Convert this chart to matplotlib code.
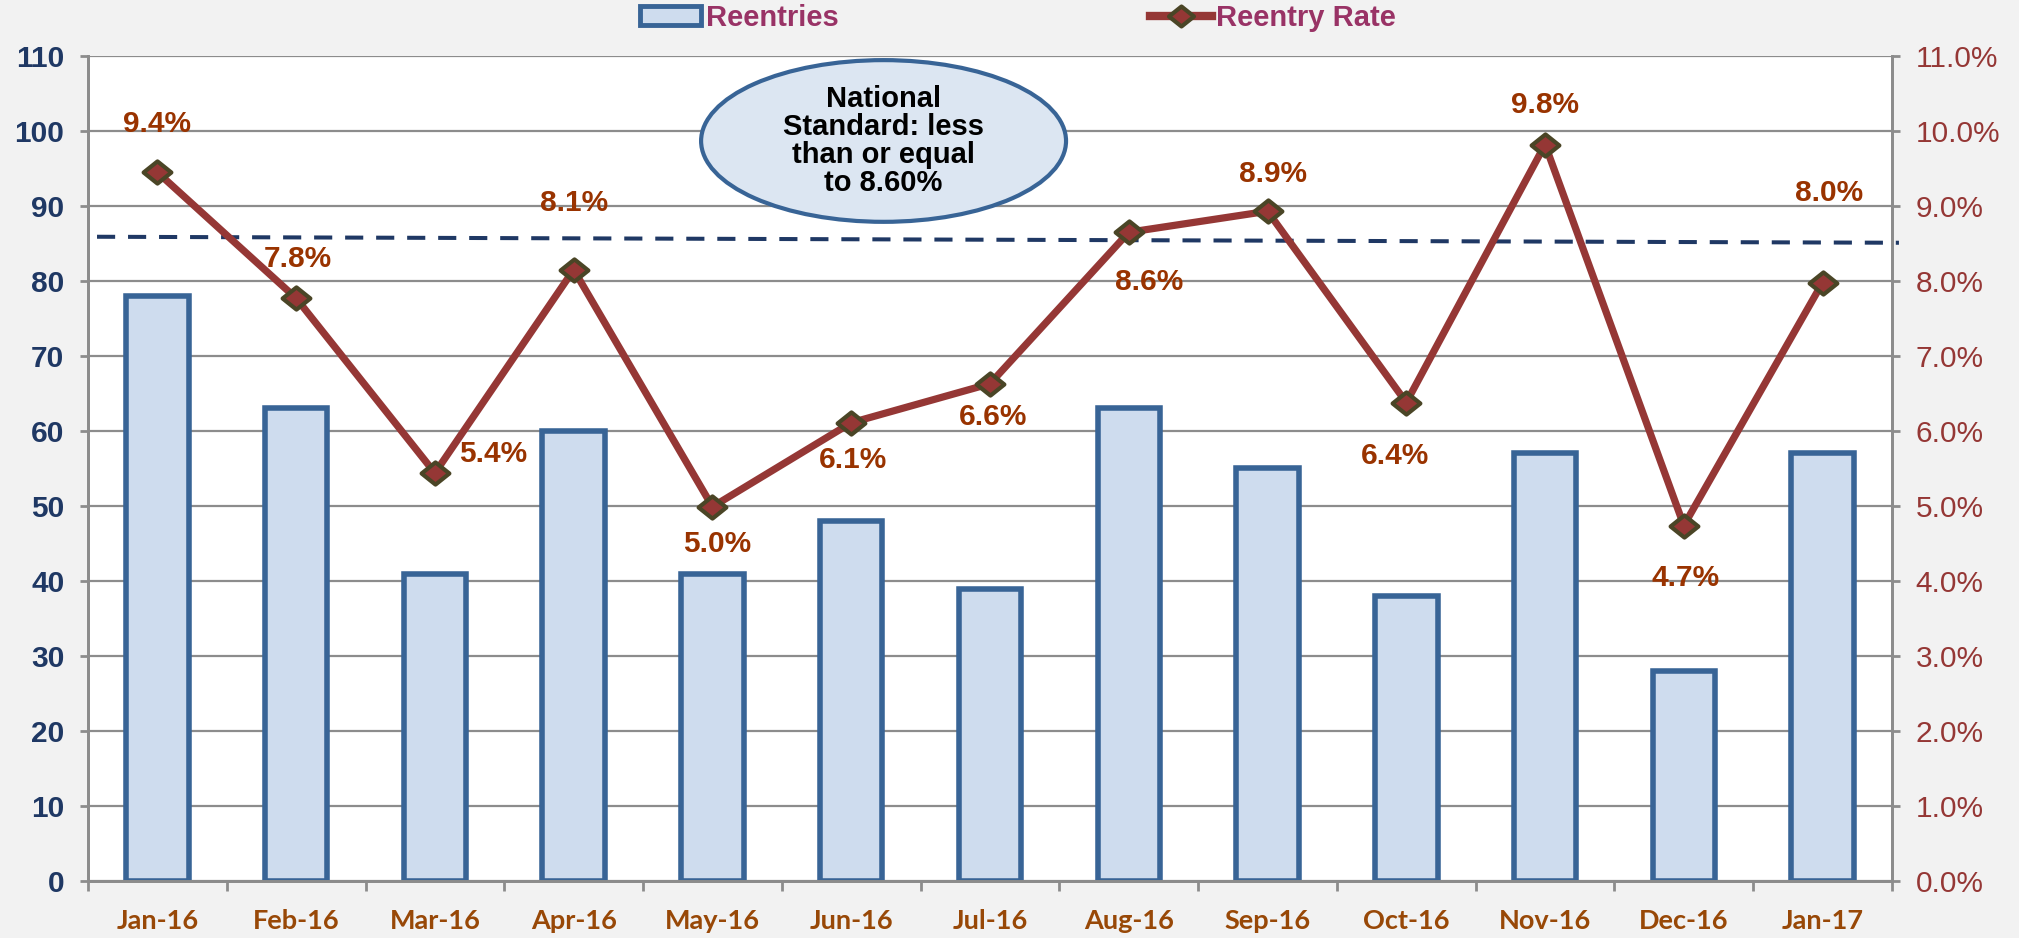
import numpy as np
import matplotlib
matplotlib.use('Agg')
import matplotlib.pyplot as plt
from matplotlib.patches import Ellipse, Patch
from matplotlib.lines import Line2D
from matplotlib.path import Path

months = ['Jan-16', 'Feb-16', 'Mar-16', 'Apr-16', 'May-16', 'Jun-16', 'Jul-16',
          'Aug-16', 'Sep-16', 'Oct-16', 'Nov-16', 'Dec-16', 'Jan-17']
reentries = [78, 63, 41, 60, 41, 48, 39, 63, 55, 38, 57, 28, 57]
rate = [9.45, 7.77, 5.44, 8.15, 4.99, 6.11, 6.63, 8.65, 8.93, 6.38, 9.82, 4.74, 7.98]
rate_labels = ['9.4%', '7.8%', '5.4%', '8.1%', '5.0%', '6.1%', '6.6%',
               '8.6%', '8.9%', '6.4%', '9.8%', '4.7%', '8.0%']
standard_line = [8.59, 8.51]   # drawn standard line, left and right ends
standard_text = 'National\nStandard: less\nthan or equal\nto 8.60%'

# label offsets (pixels) from each rate marker
label_off = [(0, 48), (2, 39), (58, 19), (0, 67), (5, -37), (2, -37), (3, -33),
             (20, -50), (5, 37), (-11, -53), (0, 40), (2, -52), (6, 90)]

BG = '#F2F2F2'
GRID = '#8C8C8C'
BAR_FACE = '#CEDCEE'
BAR_EDGE = '#386496'
LINE_RED = '#953735'
MARK_EDGE = '#4A4526'
LABEL_BROWN = '#993300'
NAVY = '#1F3864'
XLAB = '#984807'
LEG_TXT = '#993366'

# Excel-style diamond, a bit wider than tall
DIAMOND = Path([(-1, 0), (0, 0.8), (1, 0), (0, -0.8), (-1, 0)],
               [Path.MOVETO, Path.LINETO, Path.LINETO, Path.LINETO, Path.CLOSEPOLY])

plt.rcParams['font.family'] = ['Liberation Sans', 'DejaVu Sans']

fig = plt.figure(figsize=(20.19, 9.38), dpi=100, facecolor=BG)
ax = fig.add_axes([88 / 2019, 1 - 881 / 938, 1804 / 2019, 825 / 938])
ax.set_facecolor('white')
ax2 = ax.twinx()

x = np.arange(len(months))

# bars
ax.bar(x, reentries, width=0.45, color=BAR_FACE, edgecolor=BAR_EDGE,
       linewidth=4, zorder=2)
ax.set_xlim(-0.5, len(months) - 0.5)
ax.set_ylim(0, 110)
ax.set_yticks(np.arange(0, 111, 10))
ax.yaxis.grid(True, color=GRID, linewidth=1.6, zorder=0)
ax.set_axisbelow(True)

ax.set_xticks(x)
ax.set_xticklabels(months)
ax.set_xticks(np.arange(-0.5, len(months), 1.0), minor=True)
ax.tick_params(axis='x', which='major', length=0, pad=20, labelsize=19.5,
               labelcolor=XLAB)
ax.tick_params(axis='x', which='minor', length=7, width=2, color=GRID,
               direction='out')
for t in ax.get_xticklabels():
    t.set_family(['Lato', 'DejaVu Sans'])
    t.set_fontweight('bold')
ax.tick_params(axis='y', length=6, width=2, color=GRID, pad=11,
               labelsize=21.5, labelcolor=NAVY)
for t in ax.get_yticklabels():
    t.set_fontweight('bold')

for side in ['left', 'right', 'bottom']:
    ax.spines[side].set_color(GRID)
    ax.spines[side].set_linewidth(2)
    ax2.spines[side].set_color(GRID)
    ax2.spines[side].set_linewidth(2)
ax.spines['top'].set_visible(False)
ax2.spines['top'].set_visible(False)

# rate line
ax2.set_ylim(0, 11)
ax2.set_yticks(np.arange(0, 11.01, 1))
ax2.set_yticklabels([f'{v:.1f}%' for v in np.arange(0, 11.01, 1)])
ax2.tick_params(axis='y', length=6, width=2, color=GRID, pad=11,
                labelsize=21.5, labelcolor=LINE_RED)

ax2.plot([-0.435, 12.55], standard_line, color=NAVY, linewidth=2.9,
         dashes=(4.5, 3.2), dash_capstyle='butt', clip_on=False, zorder=3)

ax2.plot(x, rate, color=LINE_RED, linewidth=5.2, marker=DIAMOND, markersize=20,
         markerfacecolor=LINE_RED, markeredgecolor=MARK_EDGE,
         markeredgewidth=3, zorder=4)

for xi, yi, lab, (dx, dy) in zip(x, rate, rate_labels, label_off):
    ax2.annotate(lab, xy=(xi, yi), xytext=(dx, dy), textcoords='offset pixels',
                 ha='center', va='center', fontsize=21.5, fontweight='bold',
                 color=LABEL_BROWN, zorder=5)

# national standard bubble
ell = Ellipse((0.441, 0.897), 0.2023, 0.196, transform=ax2.transAxes,
              facecolor='#DCE6F2', edgecolor=BAR_EDGE, linewidth=3, zorder=6)
ax2.add_patch(ell)
ax2.text(0.441, 0.897, standard_text, transform=ax2.transAxes, ha='center',
         va='center', fontsize=21, fontweight='bold', color='black',
         linespacing=1.0, zorder=7)

# legend
handles = [Patch(facecolor=BAR_FACE, edgecolor=BAR_EDGE, linewidth=3.5),
           Line2D([0], [0], color=LINE_RED, linewidth=6, marker=DIAMOND,
                  markersize=18, markerfacecolor=LINE_RED,
                  markeredgecolor=MARK_EDGE, markeredgewidth=3)]
fig.legend(handles, ['Reentries', 'Reentry Rate'], loc='center left',
           bbox_to_anchor=(640 / 2019, 1 - 18 / 938), ncol=2, frameon=False,
           borderpad=0, borderaxespad=0, handlelength=2.1, handleheight=0.65,
           handletextpad=0.15, columnspacing=10.7,
           prop={'size': 21, 'weight': 'bold', 'family': 'Liberation Sans'},
           labelcolor=LEG_TXT)

fig.savefig('out.png', dpi=100, facecolor=BG)
